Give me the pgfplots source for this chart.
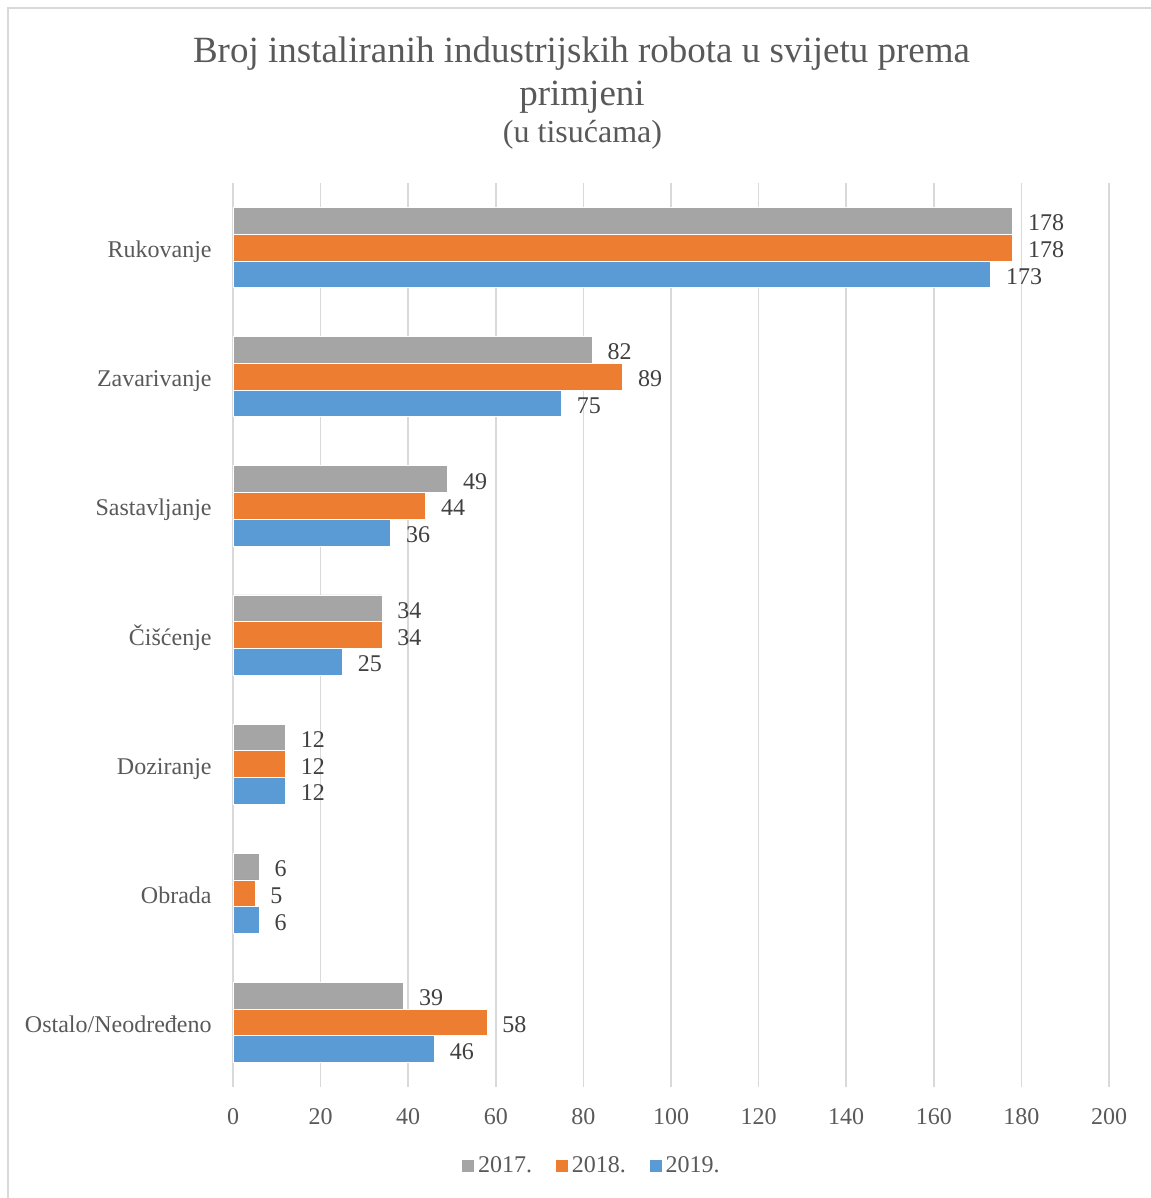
\documentclass[border=0pt]{standalone}
\usepackage{fontspec}
\setmainfont{Liberation Serif}
\usepackage{pgfplots}
\pgfplotsset{compat=1.18}
\definecolor{cA}{HTML}{A5A5A5}
\definecolor{cB}{HTML}{ED7D31}
\definecolor{cC}{HTML}{5B9BD5}
\definecolor{cgrid}{HTML}{D9D9D9}
\definecolor{ctxt}{HTML}{595959}
\definecolor{clab}{HTML}{404040}
\begin{document}
\begin{tikzpicture}
\path[use as bounding box] (0,0) rectangle (575pt,-599pt);
\draw[cgrid, line width=0.75pt] (4pt,-602pt) -- (4pt,-4pt) -- (578pt,-4pt);
\node[anchor=base, inner sep=0pt, font=\fontsize{18.5}{22}\selectfont, text=ctxt] at (290.75pt,-31.5pt) {Broj instaliranih industrijskih robota u svijetu prema};
\node[anchor=base, inner sep=0pt, font=\fontsize{18.5}{22}\selectfont, text=ctxt] at (291pt,-53pt) {primjeni};
\node[anchor=base, inner sep=0pt, font=\fontsize{16}{19}\selectfont, text=ctxt] at (291.25pt,-71.5pt) {(u tisućama)};
\begin{axis}[
  at={(116.5pt,-91.5pt)}, anchor=north west,
  scale only axis, width=438pt, height=452pt,
  xbar, bar width=0.207,
  y dir=reverse, ymin=-0.5, ymax=6.5,
  xmin=0, xmax=200, xtick={0,20,...,200},
  ytick={0,...,6},
  yticklabels={Rukovanje,Zavarivanje,Sastavljanje,Čišćenje,Doziranje,Obrada,Ostalo/Neodređeno},
  axis line style={draw=none},
  major tick length=0pt,
  xmajorgrids, ymajorgrids=false,
  major grid style={cgrid, line width=0.75pt},
  /pgf/number format/assume math mode=true,
  tick label style={font=\fontsize{12}{14}\selectfont, text=ctxt, inner sep=0pt},
  xticklabel style={anchor=base, yshift=-18.5pt},
  yticklabel style={anchor=base east, xshift=-10.5pt, yshift=-5pt},
  clip=false,
  nodes near coords,
  every node near coord/.append style={anchor=base west, inner sep=0pt, xshift=7.5pt, yshift=-5pt, font=\fontsize{12}{14}\selectfont, text=clab},
  legend style={draw=none, fill=none, at={(axis description cs:0.411,-0.0874)}, anchor=center,
    font=\fontsize{12}{14}\selectfont, text=ctxt,
    /tikz/every even column/.append style={column sep=10pt}},
  legend columns=3,
]
\addplot[fill=cA, draw=white, line width=0.4pt, bar shift=-0.207,
  legend image code/.code={\fill[cA] (0pt,-2.5pt) rectangle (5.5pt,3pt);}]
  coordinates {(178,0) (82,1) (49,2) (34,3) (12,4) (6,5) (39,6)};
\addlegendentry{2017.}
\addplot[fill=cB, draw=white, line width=0.4pt, bar shift=0,
  legend image code/.code={\fill[cB] (0pt,-2.5pt) rectangle (5.5pt,3pt);}]
  coordinates {(178,0) (89,1) (44,2) (34,3) (12,4) (5,5) (58,6)};
\addlegendentry{2018.}
\addplot[fill=cC, draw=white, line width=0.4pt, bar shift=0.207,
  legend image code/.code={\fill[cC] (0pt,-2.5pt) rectangle (5.5pt,3pt);}]
  coordinates {(173,0) (75,1) (36,2) (25,3) (12,4) (6,5) (46,6)};
\addlegendentry{2019.}
\end{axis}
\end{tikzpicture}
\end{document}
